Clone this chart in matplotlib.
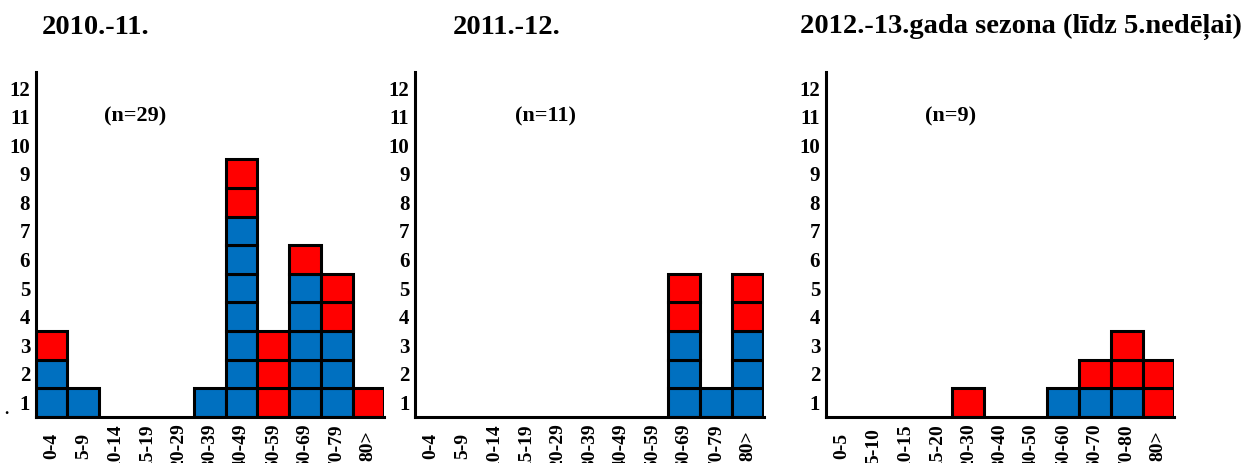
import matplotlib
matplotlib.use("Agg")
import matplotlib.pyplot as plt

plt.rcParams['font.family'] = ['Liberation Serif', 'DejaVu Serif']
plt.rcParams['font.weight'] = 'bold'

# age groups
groups_a = ["0-4", "5-9", "10-14", "15-19", "20-29", "30-39",
            "40-49", "50-59", "60-69", "70-79", "80>"]
groups_b = ["0-5", "5-10", "10-15", "15-20", "20-30", "30-40",
            "40-50", "50-60", "60-70", "70-80", "80>"]

titles = ["2010.-11.", "2011.-12.", "2012.-13.gada sezona (līdz 5.nedēļai)"]
n_labels = ["(n=29)", "(n=11)", "(n=9)"]

# cases per age group (blue squares at the bottom, red on top)
blue_1011 = [2, 1, 0, 0, 0, 1, 7, 0, 5, 3, 0]
red_1011 = [1, 0, 0, 0, 0, 0, 2, 3, 1, 2, 1]
blue_1112 = [0, 0, 0, 0, 0, 0, 0, 0, 3, 1, 3]
red_1112 = [0, 0, 0, 0, 0, 0, 0, 0, 2, 0, 2]
blue_1213 = [0, 0, 0, 0, 0, 0, 0, 1, 1, 1, 0]
red_1213 = [0, 0, 0, 0, 1, 0, 0, 0, 1, 2, 2]

BLUE = "#0070C0"
RED = "#FF0000"

W, H = 1251, 463
fig = plt.figure(figsize=(W / 100, H / 100), dpi=100)

lefts = [35.7, 415.0, 825.7]
ax_w = 348.5
ax_bottom = (H - 416.7) / H
ax_h = (416.7 - 72) / H

panels = [
    (groups_a, blue_1011, red_1011, n_labels[0], 2.63),
    (groups_a, blue_1112, red_1112, n_labels[1], 3.63),
    (groups_b, blue_1213, red_1213, n_labels[2], 3.45),
]

for left, (groups, blue, red, nlab, nx) in zip(lefts, panels):
    ax = fig.add_axes([left / W, ax_bottom, ax_w / W, ax_h])
    x = list(range(len(groups)))
    # one square per case
    for j in x:
        for i in range(blue[j]):
            ax.bar(j, 1, bottom=0.5 + i, width=1, color=BLUE,
                   edgecolor="black", linewidth=2.2)
        for i in range(red[j]):
            ax.bar(j, 1, bottom=0.5 + blue[j] + i, width=1, color=RED,
                   edgecolor="black", linewidth=2.2)
    ax.set_xlim(-0.5, len(groups) - 0.5)
    ax.set_ylim(0.5, 12.56)
    ax.set_yticks(range(1, 13))
    ax.set_yticklabels([str(v) for v in range(1, 13)], fontsize=15,
                       fontweight='bold')
    ax.set_xticks(x)
    ax.set_xticklabels(groups, fontsize=14, fontweight='bold', rotation=90,
                       rotation_mode='anchor', ha='center', va='center')
    ax.tick_params(axis='y', length=0, pad=4)
    ax.tick_params(axis='x', length=0, pad=21)
    for s in ['top', 'right']:
        ax.spines[s].set_visible(False)
    for s in ['left', 'bottom']:
        ax.spines[s].set_linewidth(2.2)
    ax.text(nx, 11, nlab, ha='center', va='center', fontsize=16,
            fontweight='bold')
    ax.set_facecolor('none')

fig.text(41.7 / W, 1 - 27 / H, titles[0], ha='left', va='center',
         fontsize=20.5, fontweight='bold')
fig.text(453 / W, 1 - 27 / H, titles[1], ha='left', va='center',
         fontsize=20.5, fontweight='bold')
fig.text(800 / W, 1 - 27 / H, titles[2], ha='left', va='center',
         fontsize=20.5, fontweight='bold')
fig.text(4 / W, 1 - 414 / H, ".", ha='left', va='baseline', fontsize=12)

fig.savefig("out.png", dpi=100)
